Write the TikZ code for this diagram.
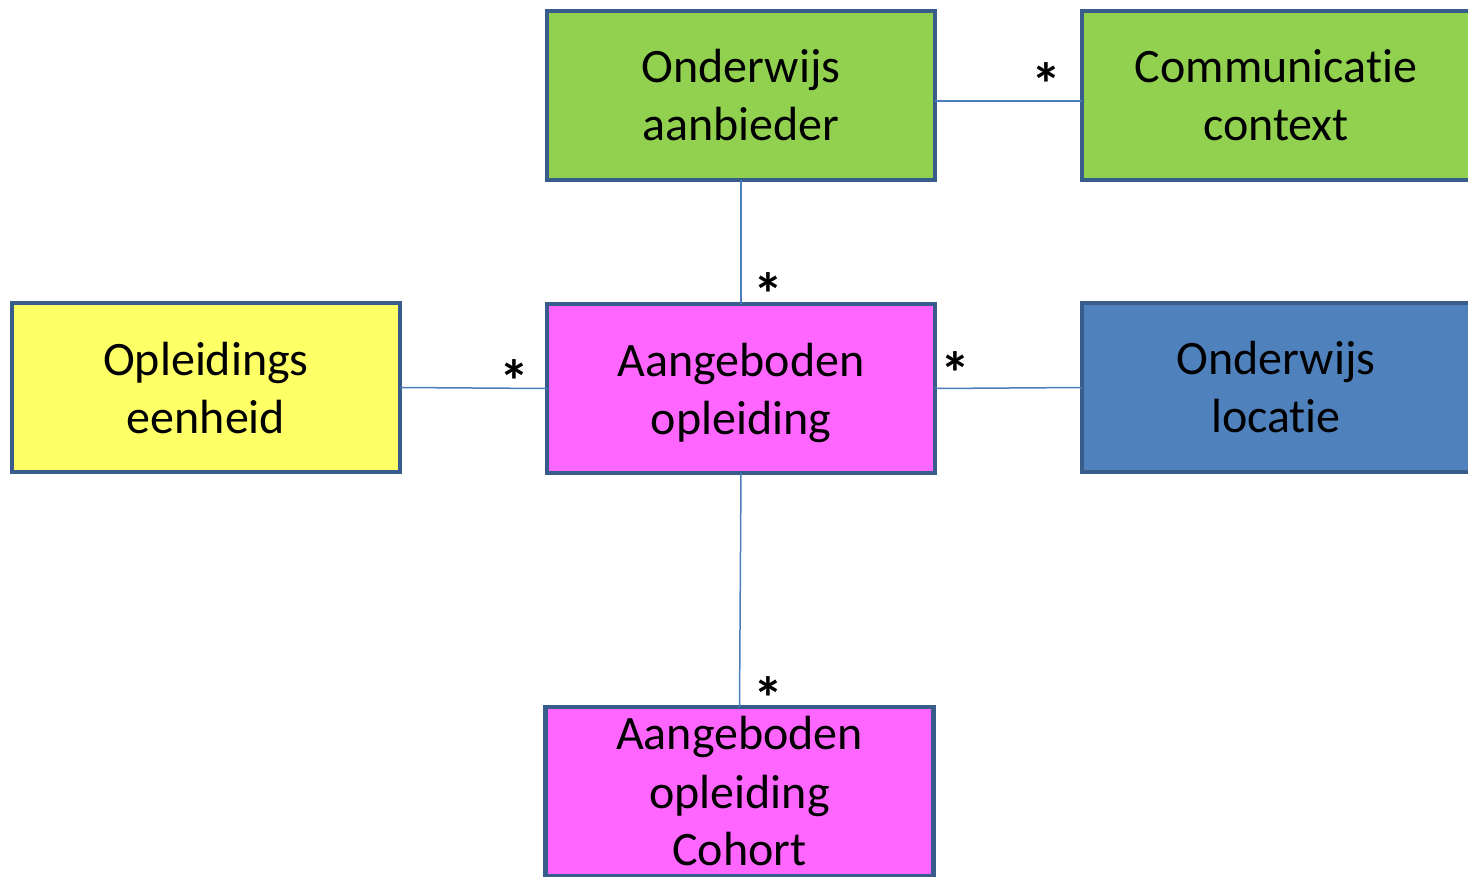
\documentclass[tikz,border=0pt]{standalone}
\usepackage{fontspec}
\setmainfont[Ligatures=NoCommon]{Carlito}
\definecolor{bgreen}{HTML}{92D050}
\definecolor{byellow}{HTML}{FFFF66}
\definecolor{bpink}{HTML}{FF66FF}
\definecolor{bblue}{HTML}{4F81BD}
\definecolor{bborder}{HTML}{385D8A}
\definecolor{bline}{HTML}{4A7EBB}
\begin{document}
\begin{tikzpicture}[x=1pt,y=-1pt,
  box/.style={draw=bborder,line width=4.5pt,minimum width=388pt,minimum height=169pt,
    inner sep=0pt,outer sep=0pt,align=center,font=\fontsize{48}{58}\selectfont},
  conn/.style={draw=bline,line width=1.5pt},
  mult/.style={inner sep=0pt,font=\bfseries\fontsize{60}{60}\selectfont}]
\useasboundingbox (0,0) rectangle (1468,876);
\clip (0,0) rectangle (1468,876);
\node[box,fill=bgreen] (OA) at (741,95.5) {Onderwijs\\aanbieder};
\node[box,fill=bgreen] (CC) at (1276,95.5) {Communicatie\\context};
\node[box,fill=byellow] (OE) at (206,387.5) {Opleidings\\eenheid};
\node[box,fill=bpink] (AO) at (741,388.5) {Aangeboden\\\raisebox{0pt}[\height][0pt]{opleiding}};
\node[box,fill=bblue] (OL) at (1276,387.5) {Onderwijs\\locatie};
\node[box,fill=bpink] (CO) at (739.5,791.5) {Aangeboden\\opleiding\\Cohort};
\draw[conn] ([yshift=-5.5pt]OA.east) -- ([yshift=-5.5pt]CC.west);
\draw[conn] (OA.south) -- (AO.north);
\draw[conn] (OE.east) -- (AO.west);
\draw[conn] (AO.east) -- (OL.west);
\draw[conn] (AO.south) -- (CO.north);
\node[mult] (m1) at (1046,84) {*};
\node[mult] (m2) at (768,294) {*};
\node[mult] (m3) at (514,381) {*};
\node[mult] (m4) at (955,373) {*};
\node[mult] (m5) at (768,698) {*};
\end{tikzpicture}
\end{document}
